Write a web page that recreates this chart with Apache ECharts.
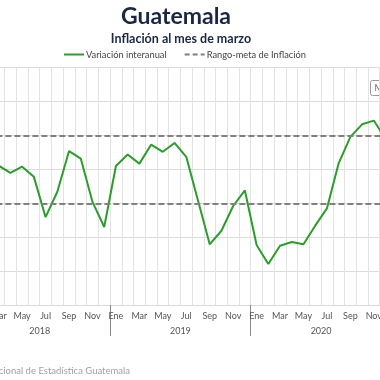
<!DOCTYPE html>
<html><head><meta charset="utf-8">
<script src="https://cdn.jsdelivr.net/npm/echarts@6/dist/echarts.min.js"></script>
<style>html,body{margin:0;padding:0;background:#fff}#c{width:380px;height:380px}</style>
</head><body><div id="c"></div>
<script>
const years = ['2018', '2019', '2020'];
const monthLabels = ['Ene','Feb','Mar','Abr','May','Jun','Jul','Ago','Sep','Oct','Nov','Dic'];
const inflation = [4.71, 4.14, 4.11, 3.90, 4.08, 3.78, 2.59, 3.34, 4.54, 4.32, 3.04, 2.30,
                   4.10, 4.44, 4.17, 4.73, 4.52, 4.78, 4.37, 3.08, 1.79, 2.19, 2.92, 3.38,
                   1.77, 1.21, 1.75, 1.86, 1.79, 2.34, 2.85, 4.18, 4.96, 5.33, 5.44, 4.90];
const targetUpper = 5;
const targetLower = 3;

const categories = [];
years.forEach(y => monthLabels.forEach(m => categories.push(m + ' ' + y)));

const FONT = 'Lato';
const chart = echarts.init(document.getElementById('c'));
chart.setOption({
  animation: false,
  backgroundColor: '#fff',
  title: [
    {text: 'Guatemala', left: 171, top: 0, textAlign: 'center',
     textStyle: {fontFamily: FONT, fontSize: 23, fontWeight: 'bold', color: '#1a2744'}},
    {text: 'Inflación al mes de marzo', left: 176, top: 27, textAlign: 'center',
     textStyle: {fontFamily: FONT, fontSize: 12.5, fontWeight: 'bold', color: '#1a2744'}}
  ],
  legend: {
    left: 63, top: 50, padding: 0, itemWidth: 20, itemHeight: 10, itemGap: 17,
    itemStyle: {opacity: 0},
    textStyle: {fontFamily: FONT, fontSize: 9.3, color: '#444', padding: [0, 0, 0, -3]},
    data: ['Variación interanual', 'Rango-meta de Inflación']
  },
  grid: {left: -30.6, right: -11.4, top: 67.7, bottom: 75, outerBoundsMode: 'none', containLabel: false},
  xAxis: [
    {type: 'category', data: categories, boundaryGap: true, position: 'bottom',
     axisLine: {show: true, lineStyle: {color: '#d8d8d8'}},
     axisTick: {show: false},
     splitLine: {show: true, interval: 0, lineStyle: {color: '#e3e3e3', width: 1}},
     axisLabel: {interval: 1, margin: 7, fontFamily: FONT, fontSize: 9, color: '#555',
                 formatter: v => v.split(' ')[0]}},
    {type: 'category', data: years, boundaryGap: true, position: 'bottom',
     axisLine: {show: false},
     axisTick: {show: true, length: 31, lineStyle: {color: '#8a8a8a', width: 1}},
     splitLine: {show: false},
     axisLabel: {margin: 22, fontFamily: FONT, fontSize: 9, color: '#555'}}
  ],
  yAxis: {type: 'value', min: 0, max: 7, interval: 1,
    axisLabel: {show: false}, axisLine: {show: false}, axisTick: {show: false},
    splitLine: {show: true, lineStyle: {color: '#dcdcdc', width: 1}}},
  series: [
    {name: 'Variación interanual', type: 'line', data: inflation, symbol: 'none',
     lineStyle: {color: '#2a9d2a', width: 2}, itemStyle: {color: '#2a9d2a'}, z: 3},
    {name: 'Rango-meta de Inflación', type: 'line', data: [], symbol: 'none',
     lineStyle: {color: '#808080', width: 2, type: [5, 3]}, itemStyle: {color: '#808080'},
     markLine: {silent: true, symbol: 'none', label: {show: false},
       lineStyle: {color: '#808080', width: 2, type: [6, 3]},
       data: [{yAxis: targetUpper}, {yAxis: targetLower}]}}
  ],
  graphic: [
    {type: 'group', left: 370, top: 80, children: [
      {type: 'rect', shape: {x: 0, y: 0, width: 30, height: 15, r: 2},
       style: {fill: '#fff', stroke: '#999', lineWidth: 1}},
      {type: 'text', left: 4, top: 3, style: {text: 'M', fontFamily: FONT, fontSize: 9, fill: '#666'}}
    ]},
    {type: 'text', right: 250, top: 366,
     style: {text: 'Fuente: Instituto Nacional de Estadística Guatemala', fontFamily: FONT, fontSize: 9.5, fill: '#a0a0a0'}}
  ]
});
</script></body></html>
